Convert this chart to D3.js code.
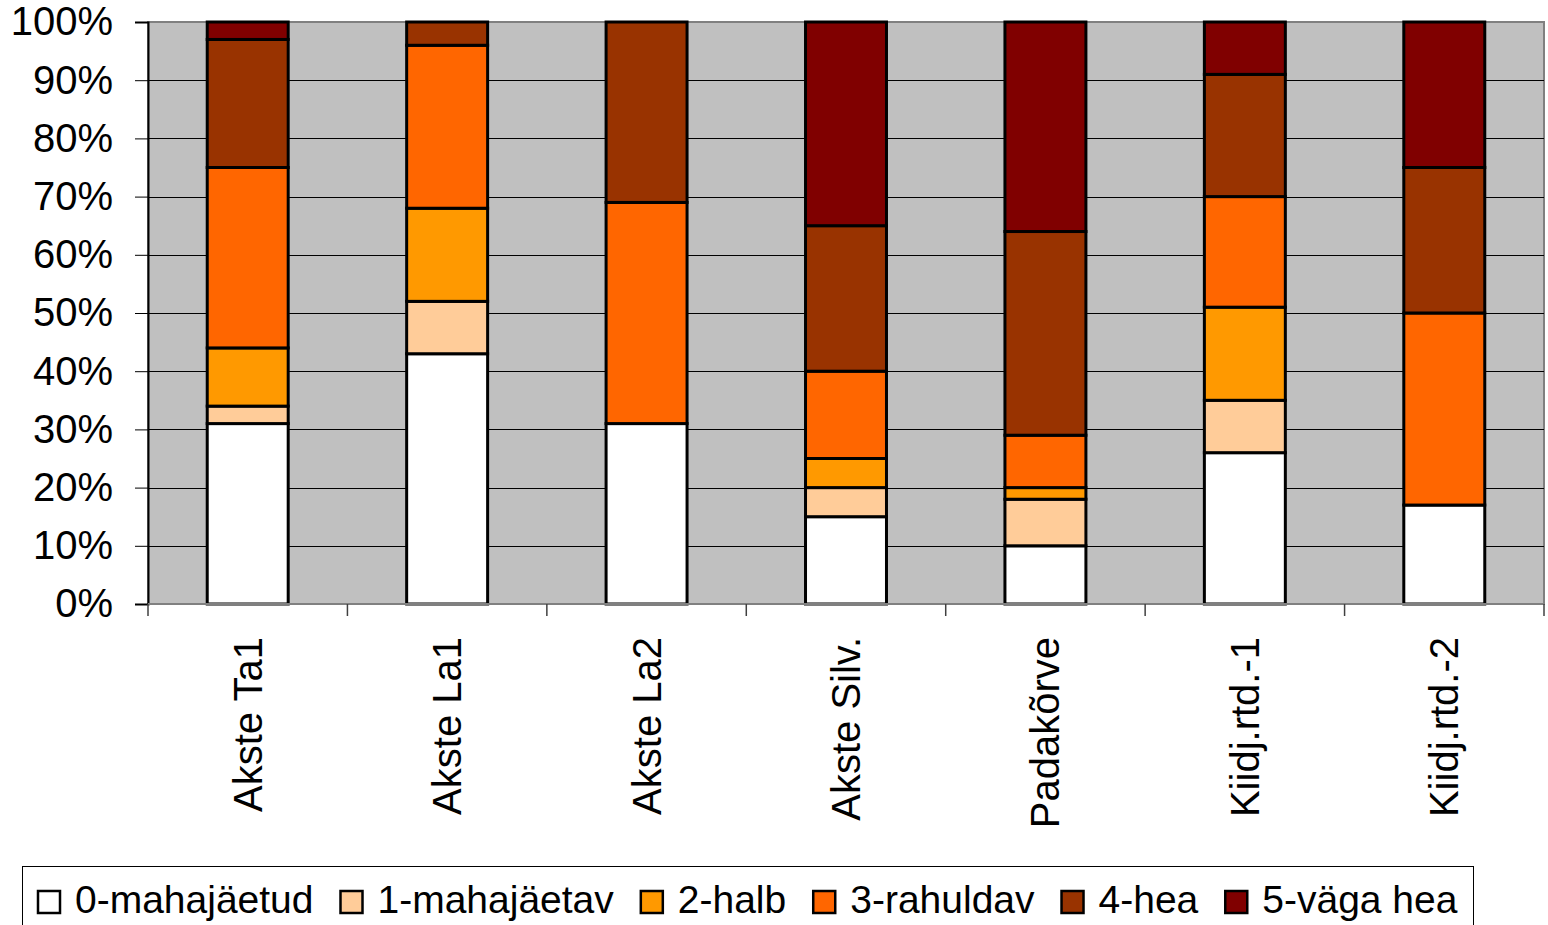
<!DOCTYPE html>
<html>
<head>
<meta charset="utf-8">
<script src="https://cdn.jsdelivr.net/npm/d3@7"></script>
<style>
  body { margin: 0; background: #fff; }
  text { font-family: "Liberation Sans", Arial, sans-serif; fill: #000; }
</style>
</head>
<body>
<div id="chart"></div>
<script>
// categories (stations)
var categories = ["Akste Ta1", "Akste La1", "Akste La2", "Akste Silv.", "Padakõrve", "Kiidj.rtd.-1", "Kiidj.rtd.-2"];

// series names and colours
var seriesNames = ["0-mahajäetud", "1-mahajäetav", "2-halb", "3-rahuldav", "4-hea", "5-väga hea"];
var seriesColors = ["#ffffff", "#ffcc99", "#ff9900", "#ff6600", "#993300", "#800000"];

// values (percent of each station)
var s0 = [31, 43, 31, 15, 10, 26, 17];
var s1 = [3, 9, 0, 5, 8, 9, 0];
var s2 = [10, 16, 0, 5, 2, 16, 0];
var s3 = [31, 28, 38, 15, 9, 19, 33];
var s4 = [22, 4, 31, 25, 35, 21, 25];
var s5 = [3, 0, 0, 35, 36, 9, 25];

var yTicks = [0, 0.1, 0.2, 0.3, 0.4, 0.5, 0.6, 0.7, 0.8, 0.9, 1];

var width = 1548, height = 925;
var plot = { left: 148, right: 1544, top: 22, bottom: 604 };

var allSeries = [s0, s1, s2, s3, s4, s5];
var rows = categories.map(function(c, i) {
  var r = { cat: c };
  seriesNames.forEach(function(n, j) { r[n] = allSeries[j][i]; });
  return r;
});

var stacked = d3.stack()
    .keys(seriesNames)
    .offset(d3.stackOffsetExpand)(rows);

var svg = d3.select("#chart")
  .append("svg")
    .attr("width", width)
    .attr("height", height);

var x = d3.scaleBand()
    .domain(categories)
    .range([plot.left, plot.right])
    .paddingInner(0.594)
    .paddingOuter(0.297);

var y = d3.scaleLinear()
    .domain([0, 1])
    .range([plot.bottom, plot.top]);

// plot background
svg.append("rect")
    .attr("x", plot.left)
    .attr("y", plot.top)
    .attr("width", plot.right - plot.left)
    .attr("height", plot.bottom - plot.top)
    .attr("fill", "#c0c0c0")
    .attr("stroke", "#808080")
    .attr("stroke-width", 2);

// gridlines
svg.append("g")
  .selectAll("line")
  .data(yTicks.slice(1, -1))
  .enter().append("line")
    .attr("x1", plot.left)
    .attr("x2", plot.right)
    .attr("y1", function(d) { return Math.round(y(d)) + 0.5; })
    .attr("y2", function(d) { return Math.round(y(d)) + 0.5; })
    .attr("stroke", "#000")
    .attr("stroke-width", 1);

// y axis
var yAxis = svg.append("g")
    .attr("transform", "translate(" + plot.left + ",0)")
    .call(d3.axisLeft(y).tickValues(yTicks).tickFormat(d3.format(".0%")).tickSize(13).tickPadding(22));
yAxis.select(".domain").attr("stroke", "#000").attr("stroke-width", 2);
yAxis.selectAll(".tick line").attr("stroke", "#000");
yAxis.selectAll("text")
    .attr("font-size", 40)
    .attr("font-family", "Liberation Sans, Arial, sans-serif")
    .attr("fill", "#000");

// bars
svg.append("g")
  .selectAll("g")
  .data(stacked)
  .enter().append("g")
    .attr("fill", function(d, i) { return seriesColors[i]; })
  .selectAll("rect")
  .data(function(d) { return d; })
  .enter().append("rect")
    .attr("x", function(d) { return x(d.data.cat); })
    .attr("y", function(d) { return y(d[1]); })
    .attr("width", x.bandwidth())
    .attr("height", function(d) { return y(d[0]) - y(d[1]); })
    .attr("stroke", "#000")
    .attr("stroke-width", 3);

// x axis
var xAxis = svg.append("g")
    .attr("transform", "translate(0," + plot.bottom + ")");
xAxis.append("line")
    .attr("x1", plot.left).attr("x2", plot.right)
    .attr("stroke", "#808080").attr("stroke-width", 2);
xAxis.selectAll("line.tick")
  .data(d3.range(categories.length + 1))
  .enter().append("line")
    .attr("class", "tick")
    .attr("x1", function(i) { return plot.left + i * x.step(); })
    .attr("x2", function(i) { return plot.left + i * x.step(); })
    .attr("y1", 0).attr("y2", 12)
    .attr("stroke", "#404040").attr("stroke-width", 1.5);
xAxis.selectAll("text")
  .data(categories)
  .enter().append("text")
    .attr("transform", function(d) {
      return "translate(" + (x(d) + x.bandwidth() / 2 + 14) + ",33) rotate(-90)";
    })
    .attr("text-anchor", "end")
    .attr("font-size", 40)
    .text(function(d) { return d; });

// legend
var legend = svg.append("g");
legend.append("rect")
    .attr("x", 22.5).attr("y", 866.5)
    .attr("width", 1451).attr("height", 80)
    .attr("fill", "#fff")
    .attr("stroke", "#000").attr("stroke-width", 1);

var lx = 38;
seriesNames.forEach(function(n, i) {
  legend.append("rect")
      .attr("x", lx).attr("y", 891)
      .attr("width", 22).attr("height", 22)
      .attr("fill", seriesColors[i])
      .attr("stroke", "#000").attr("stroke-width", 2.5);
  var t = legend.append("text")
      .attr("x", lx + 37)
      .attr("y", 913)
      .attr("font-size", 39)
      .text(n);
  lx = lx + 37 + t.node().getComputedTextLength() + 27;
});
</script>
</body>
</html>
